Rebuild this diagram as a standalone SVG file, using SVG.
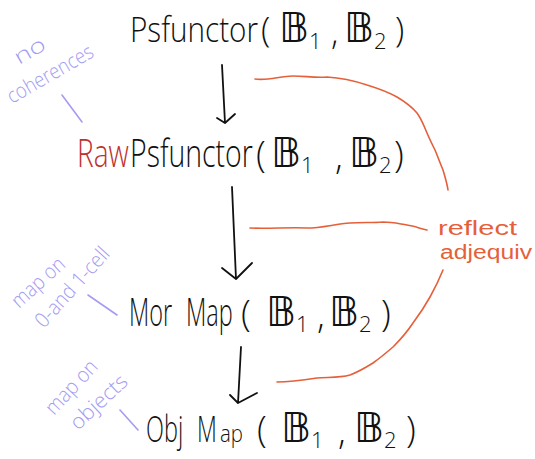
<svg xmlns="http://www.w3.org/2000/svg" width="535" height="459" viewBox="0 0 535 459">
  <style>
    .t { font-family: "Open Sans", "Liberation Sans", "DejaVu Sans", sans-serif; font-weight: 300; fill: #111; }
    .bb { font-family: "DejaVu Sans", sans-serif; font-weight: normal; font-size: 41px; }
    .sub { font-size: 22px; }
    .red { fill: #c0302e; }
    .note { font-family: "Open Sans", "Liberation Sans", sans-serif; font-weight: 300; fill: #a49cf2; font-size: 21px; }
    .org { font-family: "Liberation Sans", "DejaVu Sans", sans-serif; fill: #e5603a; font-size: 20px; }
    .arrow { fill: none; stroke: #111; stroke-width: 1.8; stroke-linecap: round; stroke-linejoin: round; }
    .brace { fill: none; stroke: #e5603a; stroke-width: 1.6; stroke-linecap: round; stroke-linejoin: round; }
    .lead { fill: none; stroke: #a49cf2; stroke-width: 1.6; stroke-linecap: round; }
  </style>

  <!-- Psfunctor(B1, B2): condensed words are drawn with a horizontal scale -->
  <g id="psfunctor">
    <text class="t" font-size="34" transform="matrix(0.8 0 0 1 130 42)" textLength="160" lengthAdjust="spacingAndGlyphs">Psfunctor</text>
    <text class="t" font-size="34" y="42"><tspan x="261">(</tspan><tspan class="bb" x="279">𝔹</tspan><tspan class="sub" y="49">1</tspan><tspan x="331" y="44">,</tspan><tspan class="bb" x="344" y="42">𝔹</tspan><tspan class="sub" y="49">2</tspan><tspan x="395" y="42">)</tspan></text>
  </g>

  <!-- RawPsfunctor(B1, B2) -->
  <g id="rawpsfunctor">
    <text class="t red" font-size="38" transform="matrix(0.7 0 0 1 77 167)" textLength="74" lengthAdjust="spacingAndGlyphs">Raw</text>
    <text class="t" font-size="38" transform="matrix(0.71 0 0 1 130 167)" textLength="173" lengthAdjust="spacingAndGlyphs">Psfunctor</text>
    <text class="t" font-size="36" y="167"><tspan x="256">(</tspan><tspan class="bb" x="271">𝔹</tspan><tspan class="sub" y="173">1</tspan><tspan x="335" y="169">,</tspan><tspan class="bb" x="349" y="167">𝔹</tspan><tspan class="sub" y="173">2</tspan><tspan x="394" y="167">)</tspan></text>
  </g>

  <!-- MorMap(B1, B2) -->
  <g id="mormap">
    <text class="t" font-size="38" transform="matrix(0.59 0 0 1 129 326)" textLength="73" lengthAdjust="spacingAndGlyphs">Mor</text>
    <text class="t" font-size="38" transform="matrix(0.6 0 0 1 186 326)" textLength="78" lengthAdjust="spacingAndGlyphs">Map</text>
    <text class="t" font-size="36" y="326"><tspan x="241">(</tspan><tspan class="bb" x="266">𝔹</tspan><tspan class="sub" y="332">1</tspan><tspan x="317" y="328">,</tspan><tspan class="bb" x="329" y="326">𝔹</tspan><tspan class="sub" y="332">2</tspan><tspan x="381" y="326">)</tspan></text>
  </g>

  <!-- ObjMap(B1, B2) -->
  <g id="objmap">
    <text class="t" font-size="36" transform="matrix(0.62 0 0 1 146 442)" textLength="60" lengthAdjust="spacingAndGlyphs">Obj</text>
    <text class="t" font-size="36" transform="matrix(0.62 0 0 1 197 442)" textLength="32" lengthAdjust="spacingAndGlyphs">M</text>
    <text class="t" font-size="24" transform="matrix(0.82 0 0 1 220 442)" textLength="28" lengthAdjust="spacingAndGlyphs">ap</text>
    <text class="t" font-size="36" y="442"><tspan x="257">(</tspan><tspan class="bb" x="281">𝔹</tspan><tspan class="sub" y="448">1</tspan><tspan x="338" y="444">,</tspan><tspan class="bb" x="354" y="442">𝔹</tspan><tspan class="sub" y="448">2</tspan><tspan x="406" y="442">)</tspan></text>
  </g>

  <!-- annotations -->
  <g id="note-coherences">
    <text class="note" x="19" y="65" font-size="24" transform="rotate(-30 19 65)" textLength="33" lengthAdjust="spacingAndGlyphs">no</text>
    <text class="note" x="12" y="104" transform="rotate(-30 12 104)" textLength="96" lengthAdjust="spacingAndGlyphs">coherences</text>
    <path class="lead" d="M62 95 L82 122"/>
  </g>
  <g id="note-cells">
    <text class="note" x="19" y="309" transform="rotate(-42 19 309)" textLength="64" lengthAdjust="spacingAndGlyphs">map on</text>
    <text class="note" x="44" y="329" transform="rotate(-48 44 329)" textLength="100" lengthAdjust="spacingAndGlyphs">0-and 1-cell</text>
    <path class="lead" d="M88 295 L117 315"/>
  </g>
  <g id="note-objects">
    <text class="note" x="54" y="416" transform="rotate(-47 54 416)" textLength="66" lengthAdjust="spacingAndGlyphs">map on</text>
    <text class="note" x="78" y="431" transform="rotate(-43 78 431)" textLength="70" lengthAdjust="spacingAndGlyphs">objects</text>
    <path class="lead" d="M120 410 L138 430"/>
  </g>
  <g id="note-reflect">
    <text class="org" x="438" y="235" textLength="79" lengthAdjust="spacingAndGlyphs">reflect</text>
    <text class="org" x="440" y="259" textLength="92" lengthAdjust="spacingAndGlyphs">adjequiv</text>
  </g>

  <!-- connectors -->
  <g id="connectors">
    <path class="arrow" d="M222 65 L225 123 M217 118 L225 123 L235 114"/>
    <path class="arrow" d="M232 187 L236 279 M222 268 L236 279 L252 263"/>
    <path class="arrow" d="M241 347 L238 403 M230 395 L238 403 L257 393"/>
    <path class="brace" d="M255 79 C268 81 280 76 293 76 C305 76 315 78 327 77 C345 78 355 81 367 85 C380 89 388 92 397 97 C407 103 412 107 417 113 C422 120 424 126 427 133 C430 140 432 144 435 150 C438 157 440 163 443 170 C445 177 447 183 448 190"/>
    <path class="brace" d="M250 228 C268 229 290 227 307 228 C322 228 335 224 350 223 C362 222 372 223 383 222 C393 222 400 224 407 225 C415 226 421 229 427 230"/>
    <path class="brace" d="M443 270 C439 280 435 288 430 297 C425 306 419 315 413 323 C407 332 400 340 393 347 C386 353 380 358 373 363 C365 368 358 372 350 375 C339 378 328 377 317 378 C304 380 290 382 277 382"/>
  </g>
</svg>
